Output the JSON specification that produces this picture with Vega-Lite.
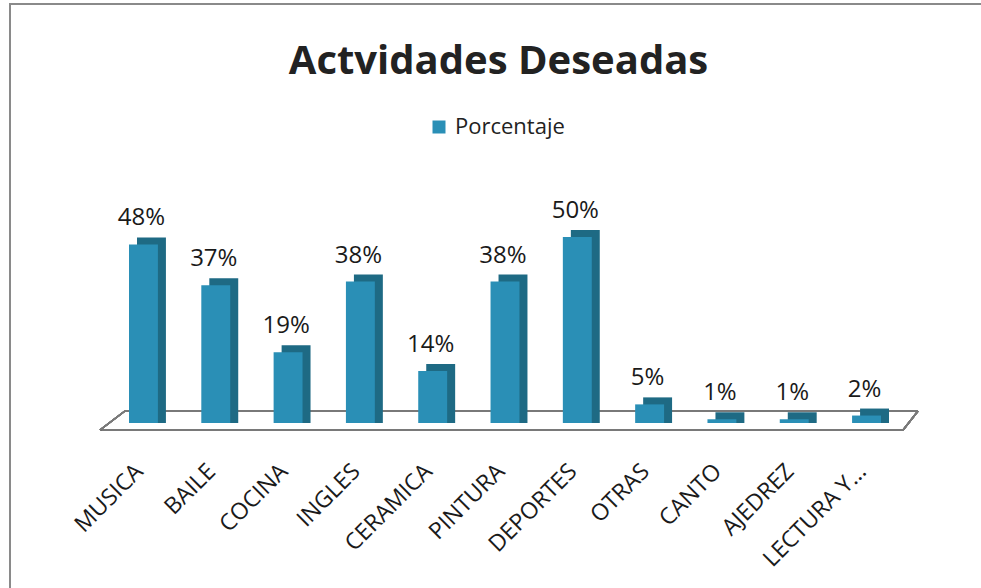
{
  "$schema": "https://vega.github.io/schema/vega-lite/v6.json",
  "autosize": {"type": "none"},
  "padding": {"left": 10, "top": 4, "right": 0, "bottom": 0},
  "width": 981,
  "height": 600,
  "background": "white",
  "config": {
    "font": "Open Sans",
    "view": {"stroke": "#8a8a8a", "strokeWidth": 2}
  },
  "title": {
    "text": "Actvidades Deseadas",
    "font": "Open Sans",
    "fontSize": 40,
    "fontWeight": "bold",
    "color": "#222222",
    "anchor": "middle",
    "frame": "group",
    "baseline": "alphabetic",
    "offset": -110,
    "dx": -2
  },
  "data": {
    "values": [
      {"actividad": "MUSICA", "porcentaje": 48, "etiqueta": "48%"},
      {"actividad": "BAILE", "porcentaje": 37, "etiqueta": "37%"},
      {"actividad": "COCINA", "porcentaje": 19, "etiqueta": "19%"},
      {"actividad": "INGLES", "porcentaje": 38, "etiqueta": "38%"},
      {"actividad": "CERAMICA", "porcentaje": 14, "etiqueta": "14%"},
      {"actividad": "PINTURA", "porcentaje": 38, "etiqueta": "38%"},
      {"actividad": "DEPORTES", "porcentaje": 50, "etiqueta": "50%"},
      {"actividad": "OTRAS", "porcentaje": 5, "etiqueta": "5%"},
      {"actividad": "CANTO", "porcentaje": 1, "etiqueta": "1%"},
      {"actividad": "AJEDREZ", "porcentaje": 1, "etiqueta": "1%"},
      {"actividad": "LECTURA Y...", "porcentaje": 2, "etiqueta": "2%"}
    ]
  },
  "encoding": {
    "x": {
      "field": "actividad",
      "type": "nominal",
      "sort": null,
      "axis": null,
      "scale": {
        "domain": ["MUSICA", "BAILE", "COCINA", "INGLES", "CERAMICA", "PINTURA", "DEPORTES", "OTRAS", "CANTO", "AJEDREZ", "LECTURA Y..."],
        "range": [119, 871],
        "paddingInner": 0.6,
        "paddingOuter": 0
      }
    }
  },
  "layer": [
    {
      "mark": {"type": "rule", "color": "#7a7a7a", "strokeWidth": 1.5, "xOffset": -29, "x2Offset": 36.5, "yOffset": 7},
      "encoding": {
        "x": {"datum": "MUSICA", "bandPosition": 0},
        "x2": {"datum": "LECTURA Y..."},
        "y": {"datum": 0, "type": "quantitative", "axis": null, "scale": {"domain": [-48.66, 112.63], "zero": false, "nice": false}}
      }
    },
    {
      "mark": {"type": "rule", "color": "#7a7a7a", "strokeWidth": 1.5, "xOffset": -4, "x2Offset": 51.5, "yOffset": -12},
      "encoding": {
        "x": {"datum": "MUSICA", "bandPosition": 0},
        "x2": {"datum": "LECTURA Y..."},
        "y": {"datum": 0, "type": "quantitative"}
      }
    },
    {
      "mark": {"type": "rule", "color": "#7a7a7a", "strokeWidth": 1.5, "xOffset": -29, "x2Offset": -18.5, "yOffset": 7, "y2Offset": -12},
      "encoding": {
        "x": {"datum": "MUSICA", "bandPosition": 0},
        "x2": {"datum": "MUSICA"},
        "y": {"datum": 0, "type": "quantitative"},
        "y2": {"datum": 0}
      }
    },
    {
      "mark": {"type": "rule", "color": "#7a7a7a", "strokeWidth": 1.5, "xOffset": 51, "x2Offset": 51.5, "yOffset": 7, "y2Offset": -12},
      "encoding": {
        "x": {"datum": "LECTURA Y...", "bandPosition": 0},
        "x2": {"datum": "LECTURA Y..."},
        "y": {"datum": 0, "type": "quantitative"},
        "y2": {"datum": 0}
      }
    },
    {
      "mark": {"type": "bar", "color": "#1e6a84", "xOffset": 8, "x2Offset": 8, "yOffset": -7},
      "encoding": {
        "y": {"field": "porcentaje", "type": "quantitative"},
        "y2": {"datum": 0}
      }
    },
    {
      "mark": {"type": "bar"},
      "encoding": {
        "y": {"field": "porcentaje", "type": "quantitative"},
        "y2": {"datum": 0},
        "color": {
          "datum": "Porcentaje",
          "scale": {"range": ["#2a8fb6"]},
          "legend": {
            "title": null,
            "orient": "none",
            "legendX": 418,
            "legendY": 112,
            "padding": 0,
            "symbolType": "square",
            "symbolSize": 169,
            "symbolStrokeWidth": 0,
            "symbolOpacity": 1,
            "labelFont": "Open Sans",
            "labelFontSize": 22,
            "labelColor": "#222222",
            "labelOffset": 5
          }
        }
      }
    },
    {
      "mark": {"type": "text", "font": "Open Sans", "fontSize": 24, "color": "#1a1a1a", "baseline": "alphabetic", "align": "center", "dy": -19, "xOffset": -2},
      "encoding": {
        "y": {"field": "porcentaje", "type": "quantitative"},
        "text": {"field": "etiqueta"}
      }
    },
    {
      "mark": {"type": "text", "font": "Open Sans", "fontSize": 23, "color": "#1a1a1a", "baseline": "middle", "align": "right", "angle": -45, "xOffset": -4, "yOffset": 45},
      "encoding": {
        "y": {"datum": 0, "type": "quantitative"},
        "text": {"field": "actividad"}
      }
    }
  ]
}
